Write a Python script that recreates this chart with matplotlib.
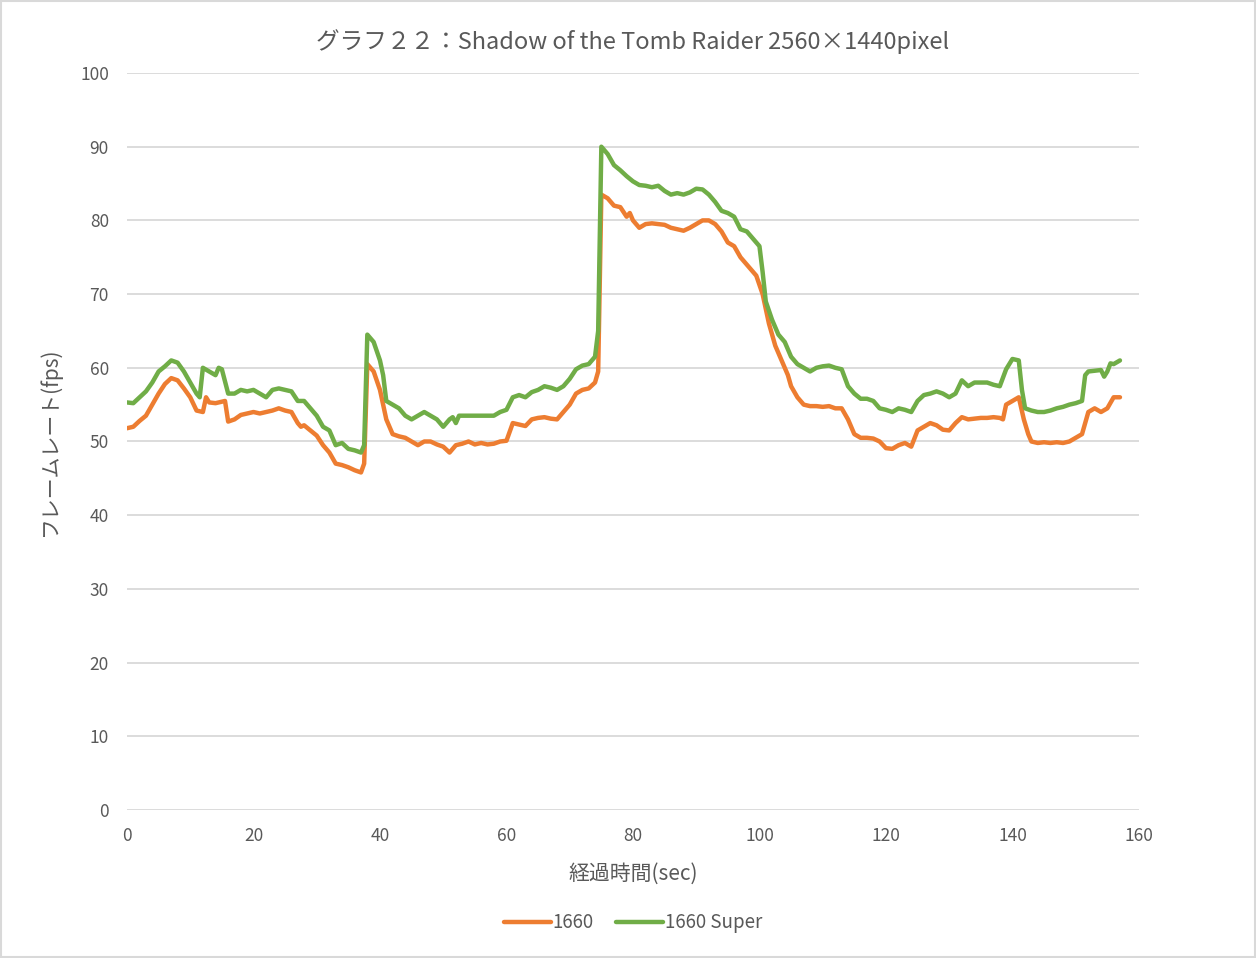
import matplotlib.pyplot as plt

plt.rcParams['font.family'] = ['Noto Sans CJK JP', 'DejaVu Sans']

# 1660
t1 = [0, 1, 2, 3, 4, 5, 6, 7, 8, 9, 10, 11, 12, 12.5, 13, 14, 15, 15.5, 16, 17, 18, 19, 20, 21, 22, 23, 24, 25, 26,
      27, 27.5, 28, 29, 30, 31, 32, 33, 34, 35, 36, 37, 37.5, 38, 39, 40, 41, 42, 43, 44, 45, 46, 47, 48, 49, 50,
      51, 52, 53, 54, 55, 56, 57, 58, 59, 60, 61, 62, 63, 64, 65, 66, 67, 68, 69, 70, 71, 72, 73, 74, 74.5,
      75, 76, 77, 78, 79, 79.5, 80, 81, 82, 83, 84, 85, 86, 87, 88, 89, 90, 91, 92, 93, 94, 95, 96, 97, 98,
      99.5, 100.5, 101.5, 102.5, 103.5, 104.5, 105, 106, 107, 108, 109, 110, 111, 112, 113, 114, 115, 116,
      117, 118, 119, 120, 121, 122, 123, 124, 125, 126, 127, 128, 129, 130, 131, 132, 133, 134, 135, 136,
      137, 138, 138.5, 139, 140, 141, 141.8, 142.5, 143, 144, 145, 146, 147, 148, 149, 150, 151, 152, 153,
      154, 155, 156, 157]
v1 = [51.8, 52, 52.8, 53.5, 55, 56.5, 57.8, 58.6, 58.3, 57.2, 56, 54.2, 54, 56, 55.3, 55.2, 55.4, 55.5, 52.7, 53,
      53.6, 53.8, 54, 53.8, 54, 54.2, 54.5, 54.2, 54, 52.5, 52, 52.2, 51.5, 50.8, 49.5, 48.5, 47, 46.8, 46.5, 46.1,
      45.8, 47, 60.5, 59.5, 57, 53, 51, 50.7, 50.5, 50, 49.5, 50, 50, 49.6, 49.3, 48.5, 49.5, 49.7, 50, 49.6, 49.8,
      49.6, 49.7, 50, 50.1, 52.5, 52.3, 52.1, 53, 53.2, 53.3, 53.1, 53, 54, 55, 56.5, 57, 57.2, 58, 59.5,
      83.5, 83, 82, 81.8, 80.5, 81, 80, 79, 79.5, 79.6, 79.5, 79.4, 79, 78.8, 78.6, 79, 79.5, 80, 80, 79.5, 78.5,
      77, 76.5, 75, 74, 72.5, 70, 66, 63, 61, 59, 57.5, 56, 55, 54.8, 54.8, 54.7, 54.8, 54.5, 54.5, 53, 51,
      50.5, 50.5, 50.4, 50, 49.1, 49, 49.5, 49.8, 49.3, 51.5, 52, 52.5, 52.2, 51.6, 51.5, 52.5, 53.3, 53,
      53.1, 53.2, 53.2, 53.3, 53.2, 53, 55, 55.5, 56, 53, 51, 50, 49.8, 49.9, 49.8, 49.9, 49.8, 50, 50.5,
      51, 54, 54.5, 54, 54.5, 56, 56]

# 1660 Super
t2 = [0, 1, 2, 3, 4, 5, 6, 7, 8, 9, 10, 11, 11.5, 12, 13, 14, 14.5, 15, 16, 17, 18, 19, 20, 21, 22, 23, 24, 25,
      26, 27, 28, 29, 30, 31, 32, 33, 34, 35, 36, 37, 37.5, 38, 39, 40, 40.5, 41, 42, 43, 44, 45, 46, 47, 48,
      49, 50, 51, 51.5, 52, 52.5, 53, 55, 57, 58, 59, 60, 61, 62, 63, 64, 65, 66, 67, 68, 69, 70, 71, 72, 73,
      74, 74.5, 75, 76, 77, 78, 79, 80, 81, 82, 83, 84, 85, 86, 87, 88, 89, 90, 91, 92, 93, 94, 95, 96, 97,
      98, 99, 100, 100.5, 101, 102, 103, 104, 105, 106, 107, 108, 109, 110, 111, 112, 113, 114, 115, 116,
      117, 118, 119, 120, 121, 122, 123, 124, 125, 126, 127, 128, 129, 130, 131, 132, 133, 134, 135, 136,
      137, 138, 139, 140, 141, 141.5, 142, 143, 144, 145, 146, 147, 148, 149, 150, 151, 151.5, 152, 153,
      154, 154.5, 155, 155.5, 156, 157]
v2 = [55.3, 55.2, 56, 56.8, 58, 59.5, 60.2, 61, 60.7, 59.5, 58, 56.5, 56, 60, 59.5, 59, 60, 59.8, 56.5, 56.5, 57,
      56.8, 57, 56.5, 56, 57, 57.2, 57, 56.8, 55.5, 55.5, 54.5, 53.5, 52, 51.5, 49.5, 49.8, 49, 48.8, 48.5, 49.5,
      64.5, 63.5, 61, 59, 55.5, 55, 54.5, 53.5, 53, 53.5, 54, 53.5, 53, 52, 53, 53.3, 52.5, 53.5, 53.5, 53.5,
      53.5, 53.5, 54, 54.3, 56, 56.3, 56, 56.7, 57, 57.5, 57.3, 57, 57.5, 58.5, 59.8, 60.3, 60.5, 61.5, 65,
      90, 89, 87.5, 86.8, 86, 85.3, 84.8, 84.7, 84.5, 84.7, 84, 83.5, 83.7, 83.5, 83.8, 84.3, 84.2, 83.5, 82.5,
      81.3, 81, 80.5, 78.8, 78.5, 77.5, 76.5, 73, 69, 66.5, 64.5, 63.5, 61.5, 60.5, 60, 59.5, 60, 60.2, 60.3,
      60, 59.8, 57.5, 56.5, 55.8, 55.8, 55.5, 54.5, 54.3, 54, 54.5, 54.3, 54, 55.5, 56.3, 56.5, 56.8, 56.5,
      56, 56.5, 58.3, 57.5, 58, 58, 58, 57.7, 57.5, 59.8, 61.2, 61, 57, 54.5, 54.2, 54, 54, 54.2, 54.5,
      54.7, 55, 55.2, 55.5, 59, 59.5, 59.6, 59.7, 58.8, 59.5, 60.6, 60.5, 61]

xticks = [0, 20, 40, 60, 80, 100, 120, 140, 160]
yticks = [0, 10, 20, 30, 40, 50, 60, 70, 80, 90, 100]

fig = plt.figure(figsize=(12.56, 9.58), dpi=100)
ax = fig.add_axes([0.1011, 0.1545, 0.8057, 0.7693])
txt = '#595959'

ax.plot(t1, v1, color='#ED7D31', lw=3.2, label='1660', solid_capstyle='round')
ax.plot(t2, v2, color='#70AD47', lw=3.2, label='1660 Super', solid_capstyle='round')

ax.set_xlim(0, 160)
ax.set_ylim(0, 100)
ax.set_xticks(xticks)
ax.set_yticks(yticks)
ax.grid(axis='y', color='#d9d9d9', lw=1.3)
ax.set_axisbelow(True)
for s in ax.spines.values():
    s.set_visible(False)
ax.tick_params(axis='y', length=0, labelsize=12.5, colors=txt, pad=13)
ax.tick_params(axis='x', length=0, labelsize=12.5, colors=txt, pad=12)

ax.set_title('グラフ２２：Shadow of the Tomb Raider 2560×1440pixel', fontsize=17, color=txt, pad=17)
ax.set_xlabel('経過時間(sec)', fontsize=15, color=txt, labelpad=13)
ax.set_ylabel('フレームレート(fps)', fontsize=15, color=txt, labelpad=14)

leg = ax.legend(loc='upper center', bbox_to_anchor=(0.5, -0.116), ncol=2, frameon=False,
                fontsize=13.5, handlelength=2.5, handletextpad=0.1, columnspacing=1.2)
for t in leg.get_texts():
    t.set_color(txt)

fig.patches.append(plt.Rectangle((0.001, 0.001), 0.998, 0.998, transform=fig.transFigure,
                                 fill=False, edgecolor='#d9d9d9', lw=1.5))

fig.savefig('out.png', dpi=100)
